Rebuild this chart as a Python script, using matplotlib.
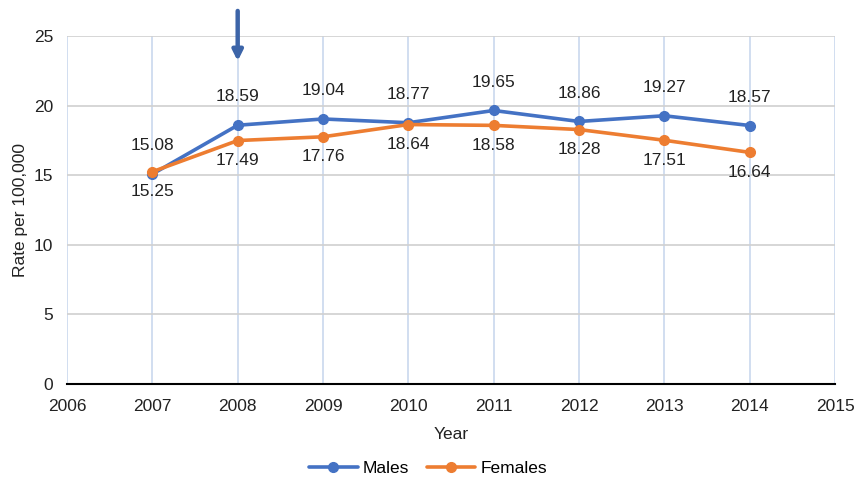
import matplotlib
matplotlib.use("Agg")
import matplotlib.pyplot as plt

years = [2007, 2008, 2009, 2010, 2011, 2012, 2013, 2014]
males = [15.08, 18.59, 19.04, 18.77, 19.65, 18.86, 19.27, 18.57]
females = [15.25, 17.49, 17.76, 18.64, 18.58, 18.28, 17.51, 16.64]
x_ticks = list(range(2006, 2016))
y_ticks = [0, 5, 10, 15, 20, 25]

plt.rcParams['font.family'] = ['Liberation Sans', 'DejaVu Sans']

fig = plt.figure(figsize=(8.56, 4.82), dpi=100)
ax = fig.add_axes([0.0783, 0.2033, 0.8972, 0.722])

blue = '#4472c4'
orange = '#ed7d31'

for xv in x_ticks:
    ax.axvline(xv, color='#c9d8ee', lw=1.2, zorder=0)
for yv in y_ticks[1:]:
    ax.axhline(yv, color='#d0d0d0', lw=1.2, zorder=0)

ax.plot(years, males, color=blue, lw=2.6, marker='o', ms=7, label='Males', zorder=3, solid_capstyle='round')
ax.plot(years, females, color=orange, lw=2.6, marker='o', ms=7, label='Females', zorder=4, solid_capstyle='round')

for xv, m, f in zip(years, males, females):
    ax.annotate(f"{m:.2f}", (xv, m), xytext=(0, 15), textcoords='offset points',
                ha='center', va='bottom', fontsize=12.5, color='#222222')
    ax.annotate(f"{f:.2f}", (xv, f), xytext=(0, -9), textcoords='offset points',
                ha='center', va='top', fontsize=12.5, color='#222222')

ax.set_xlim(2006, 2015)
ax.set_ylim(0, 25)
ax.set_xticks(x_ticks)
ax.set_yticks(y_ticks)
ax.tick_params(axis='both', length=0, labelsize=12.5, colors='#222222')
ax.tick_params(axis='x', pad=11)
ax.tick_params(axis='y', pad=10)
for s in ['left', 'right', 'top']:
    ax.spines[s].set_visible(False)
ax.spines['bottom'].set_color('black')
ax.spines['bottom'].set_linewidth(1.5)
ax.spines['bottom'].set_zorder(5)

ax.set_xlabel('Year', fontsize=12.5, color='#222222', labelpad=9)
ax.set_ylabel('Rate per 100,000', fontsize=12.5, color='#222222', labelpad=4)

ax.annotate('', xy=(2008, 23.0), xytext=(2008, 27.0),
            arrowprops=dict(arrowstyle='-|>,head_width=0.3,head_length=0.6', color='#3c64a8', lw=3.2),
            annotation_clip=False, zorder=6)

leg = fig.legend(loc='lower center', bbox_to_anchor=(0.5, -0.02), ncol=2, frameon=False,
                 fontsize=12.5, handlelength=2.8, columnspacing=1.0, handletextpad=0.3)

fig.savefig('out.png', dpi=100)
